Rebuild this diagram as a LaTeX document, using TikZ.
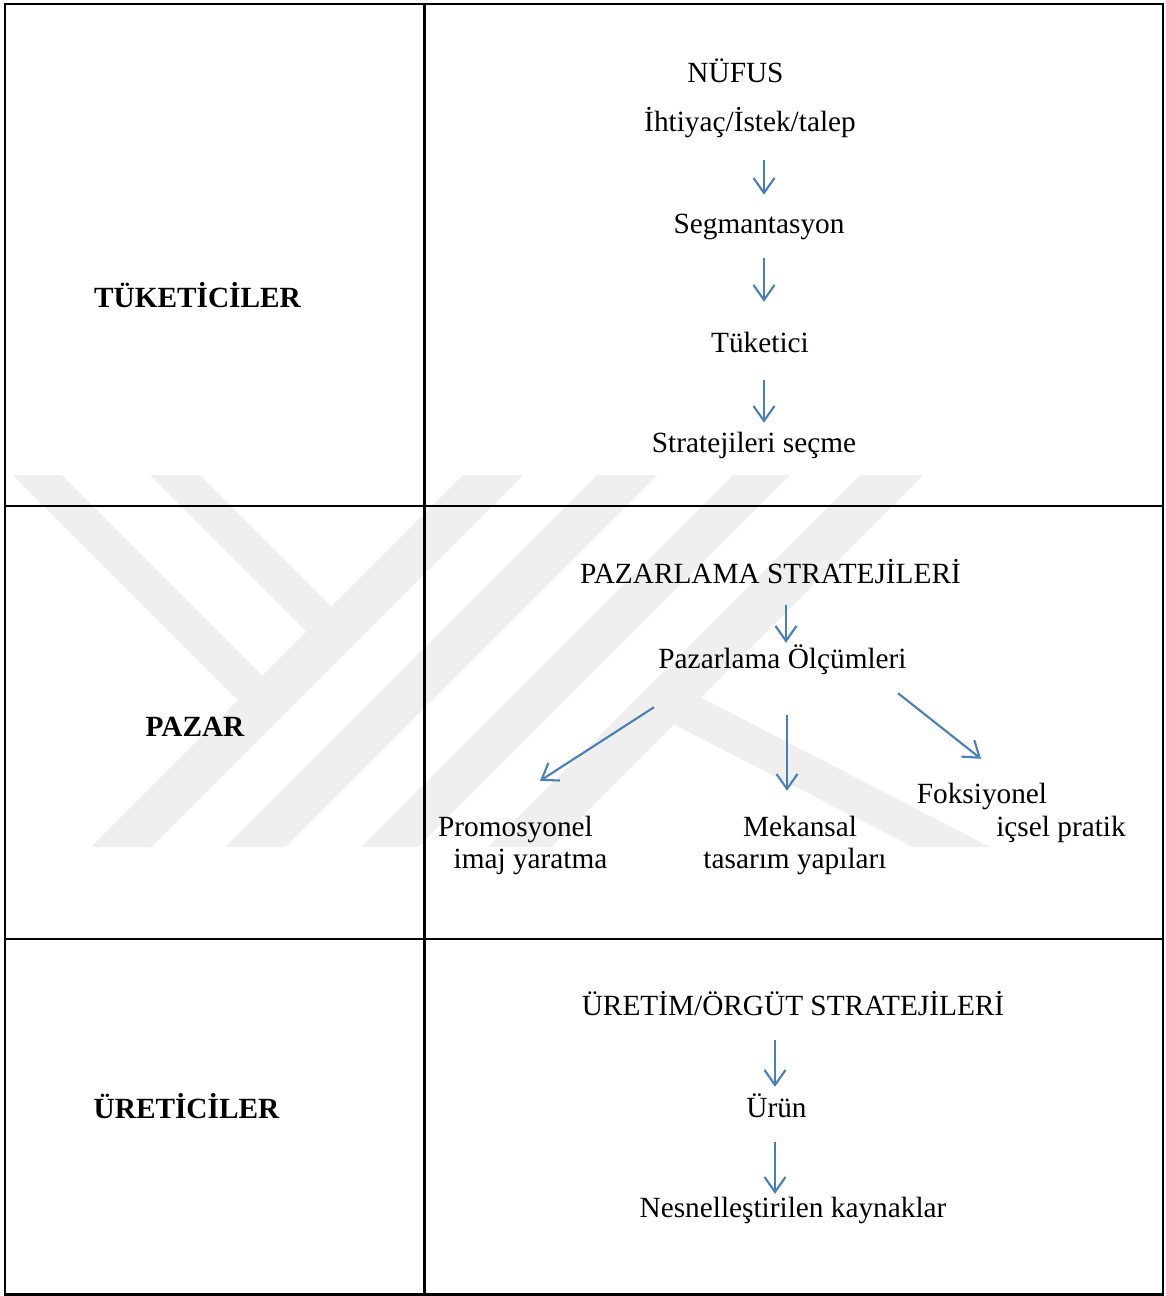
\documentclass[tikz,border=0pt]{standalone}
\usepackage{fontspec}
\setmainfont{Liberation Serif}
\usetikzlibrary{arrows.meta,calc}
\definecolor{arrblue}{RGB}{74,126,187}
\definecolor{wm}{RGB}{239,239,239}
\begin{document}
\begin{tikzpicture}[x=1pt,y=-1pt,
  lbl/.style={inner sep=0pt, anchor=base, font=\fontsize{29.3}{34}\selectfont, text height=20pt, text depth=6pt},
  hdr/.style={lbl, font=\fontsize{29.3}{34}\selectfont\bfseries},
  arr/.style={draw=arrblue, line width=2.1pt, -{Straight Barb[length=15pt,width=21pt]}},
  gridline/.style={line width=2.3pt, black},
  wmark/.style={fill=wm, draw=none}]
\useasboundingbox (0,0) rectangle (1166,1296);
\fill[white] (0,0) rectangle (1166,1296);
% watermark
\fill[wmark] (13,475) -- (62,475) -- (262.5,675.5) -- (238,700) -- cycle;
\fill[wmark] (150,475) -- (200,475) -- (331.5,606.5) -- (306.5,631.5) -- cycle;
\fill[wmark] (463,475) -- (523,475) -- (151,847) -- (91,847) -- cycle;
\fill[wmark] (597,475) -- (657,475) -- (285,847) -- (225,847) -- cycle;
\fill[wmark] (733,475) -- (790,475) -- (418,847) -- (361,847) -- cycle;
\fill[wmark] (860,475) -- (923,475) -- (551,847) -- (488,847) -- cycle;
\fill[wmark] (660,717.4) -- (913,847) -- (990,847) -- (700,697) -- cycle;
% table
\draw[gridline] (5,4) rectangle (1163,1294.5);
\draw[gridline] (424.5,4) -- (424.5,1294.5);
\draw[gridline] (5,506) -- (1163,506);
\draw[gridline] (5,939) -- (1163,939);
% left headers
\node[hdr] (tuk) at (197.5,307) {TÜKETİCİLER};
\node[hdr] (paz) at (195,736) {PAZAR};
\node[hdr] (ure) at (186.5,1118) {ÜRETİCİLER};
% row 1
\node[lbl] (nufus) at (735.5,82) {NÜFUS};
\node[lbl] (ihti) at (750,131) {İhtiyaç/İstek/talep};
\node[lbl] (segm) at (759,233) {Segmantasyon};
\node[lbl] (tuke) at (760,352) {Tüketici};
\node[lbl] (stra) at (754,452) {Stratejileri seçme};
\draw[arr] ($(ihti.south)+(14,23)$) -- ($(segm.north)+(5,-18)$);
\draw[arr] ($(segm.south)+(5,19)$) -- ($(tuke.north)+(4,-30)$);
\draw[arr] ($(tuke.south)+(4,22)$) -- ($(stra.north)+(10,-9)$);
% row 2
\node[lbl] (pstr) at (770.5,583) {PAZARLAMA STRATEJİLERİ};
\node[lbl] (polc) at (782.5,668) {Pazarlama Ölçümleri};
\node[lbl] (pro1) at (515.5,836) {Promosyonel};
\node[lbl] (pro2) at (530.5,868) {imaj yaratma};
\node[lbl] (mek1) at (800,836) {Mekansal};
\node[lbl] (mek2) at (795,868) {tasarım yapıları};
\node[lbl] (fok1) at (982,803) {Foksiyonel};
\node[lbl] (fok2) at (1061,836) {içsel pratik};
\draw[arr] ($(pstr.south)+(15.5,16)$) -- ($(polc.north)+(3.5,-5)$);
\draw[arr] ($(polc.south)+(-128.5,33)$) -- ($(pro1.north)+(24.5,-35)$);
\draw[arr] ($(polc.south)+(4.5,41)$) -- ($(mek1.north)+(-13,-25)$);
\draw[arr] ($(polc.south)+(115.5,19)$) -- ($(fok1.north)+(-1,-24)$);
% row 3
\node[lbl] (ustr) at (793,1015) {ÜRETİM/ÖRGÜT STRATEJİLERİ};
\node[lbl] (urun) at (776.5,1117) {Ürün};
\node[lbl] (nesn) at (793,1217) {Nesnelleştirilen kaynaklar};
\draw[arr] ($(ustr.south)+(-18,19)$) -- ($(urun.north)+(-1.5,-10)$);
\draw[arr] ($(urun.south)+(-1.5,19)$) -- ($(nesn.north)+(-18,-3)$);
\end{tikzpicture}
\end{document}
